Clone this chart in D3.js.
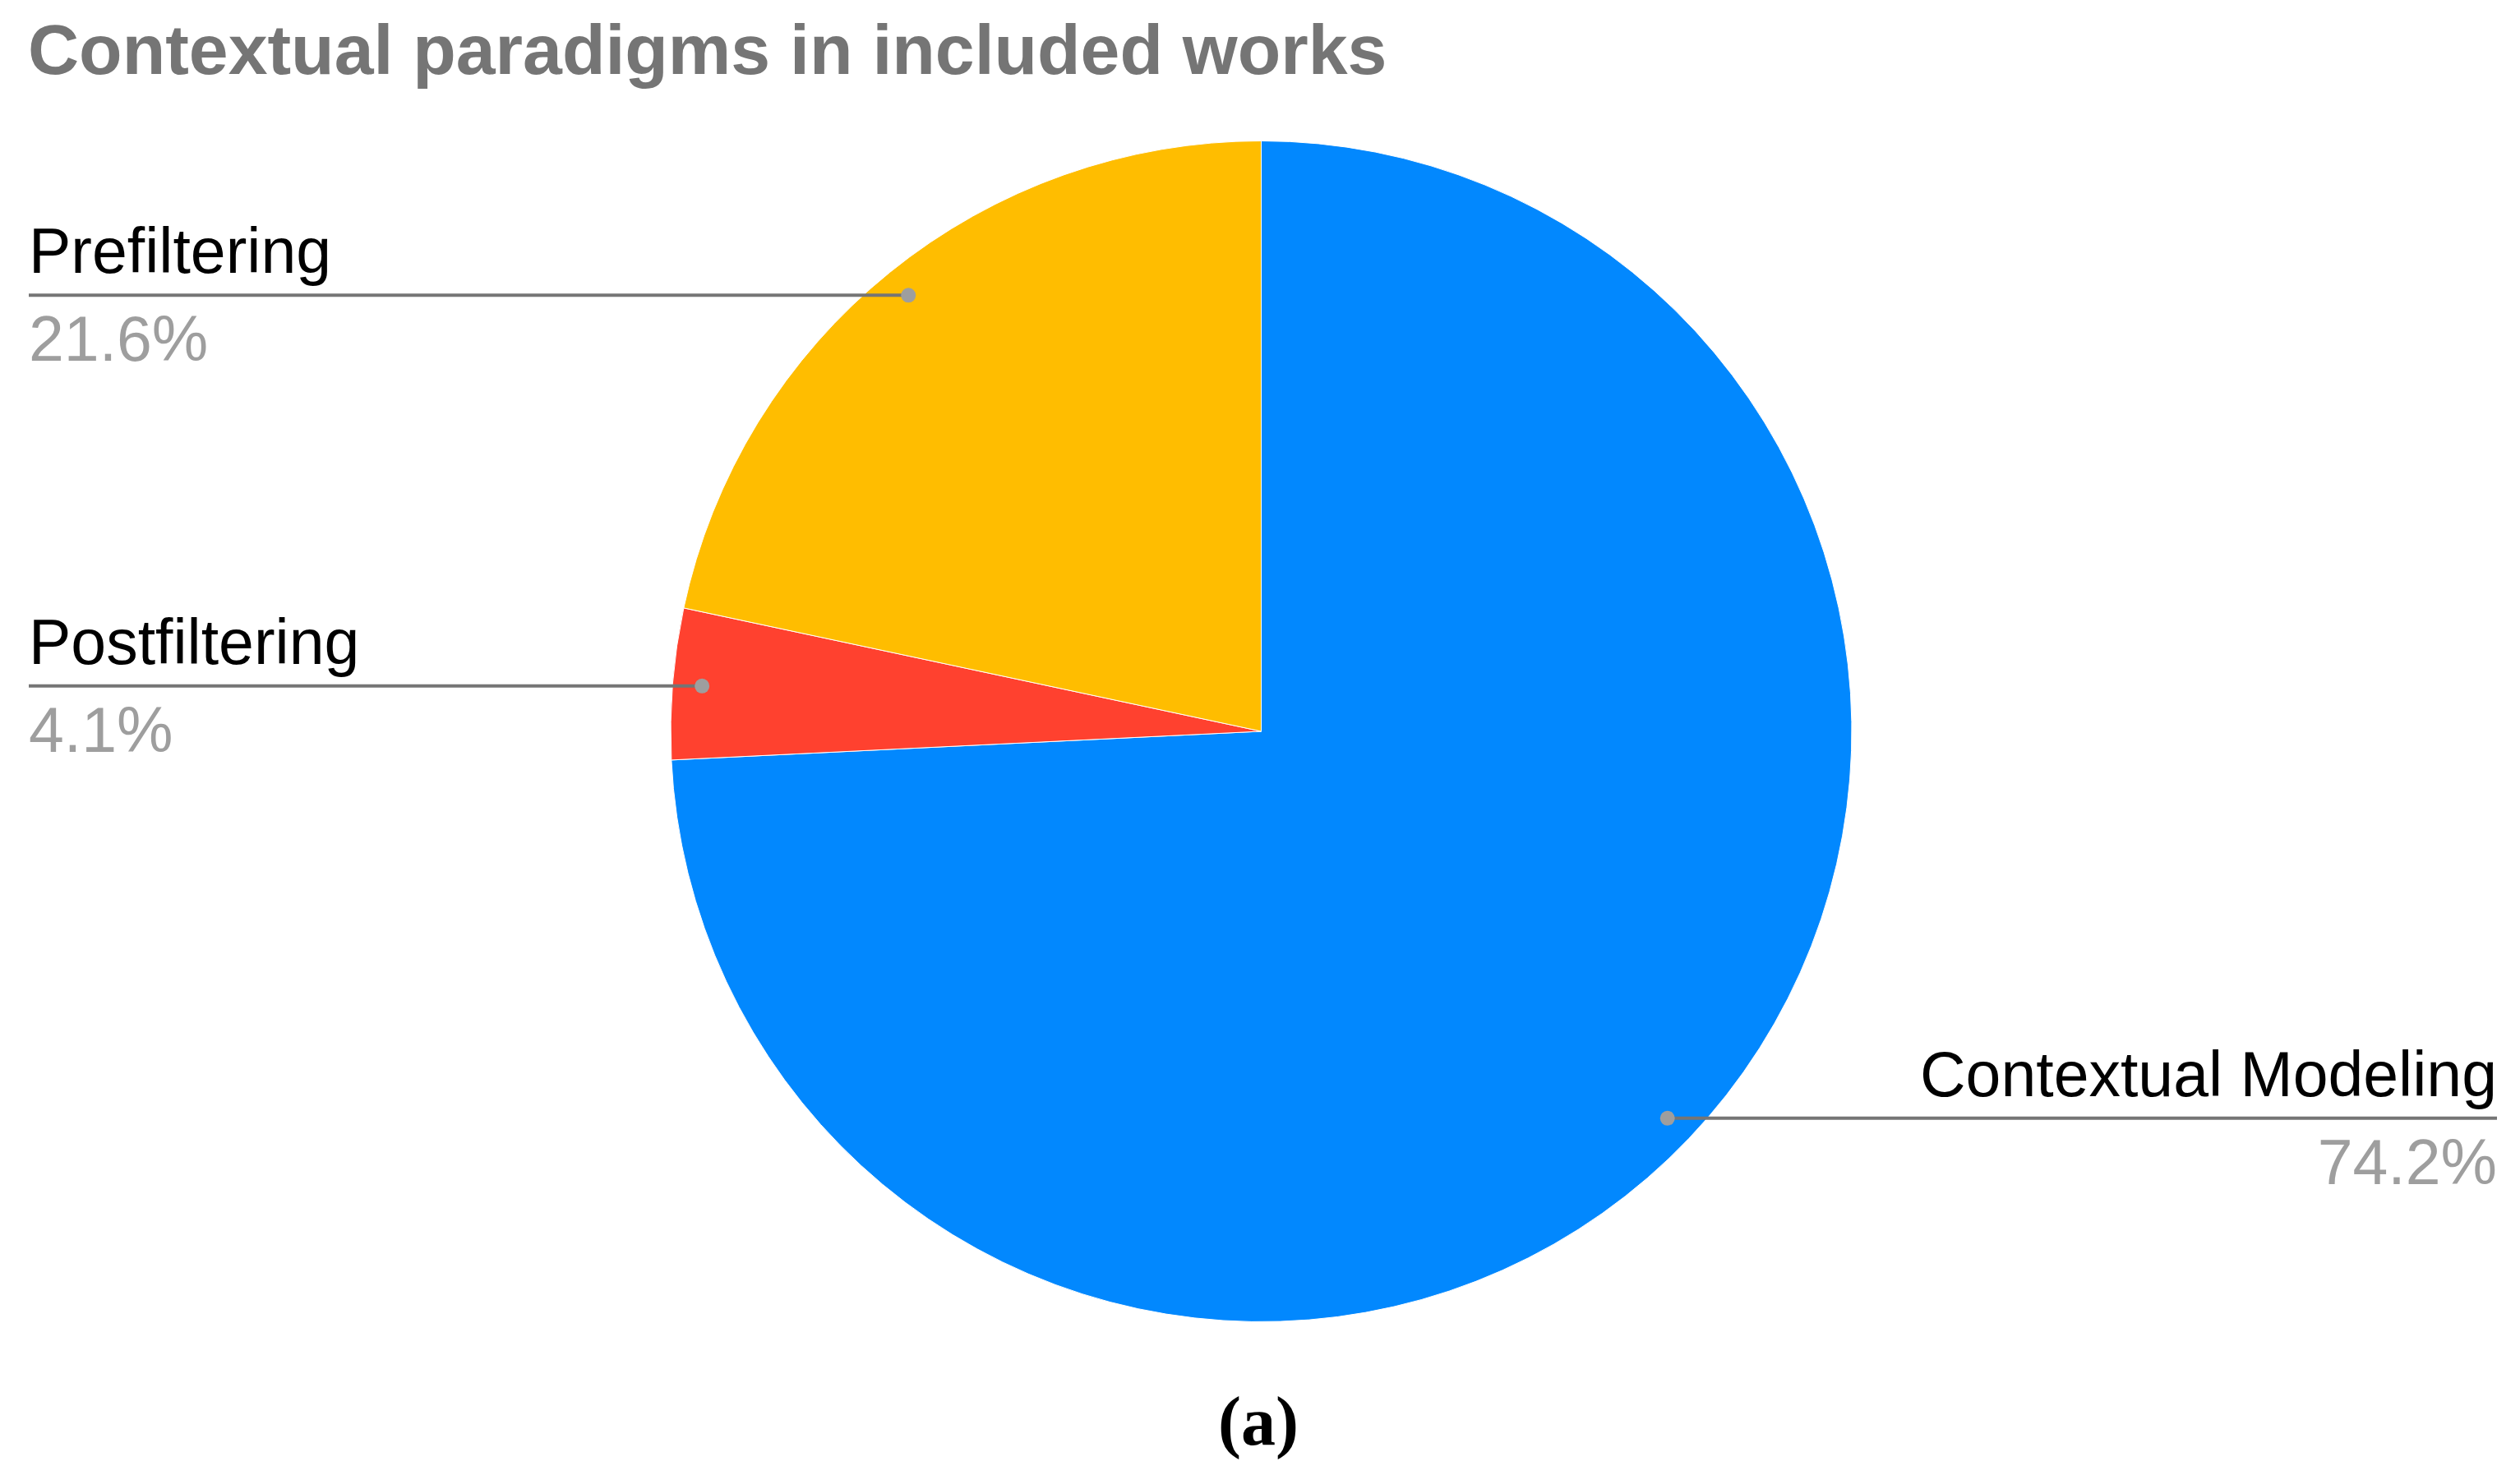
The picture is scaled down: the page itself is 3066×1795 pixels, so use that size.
<!DOCTYPE html>
<html>
<head>
<meta charset="utf-8">
<script src="https://cdn.jsdelivr.net/npm/d3@7"></script>
<style>
  html, body { margin: 0; padding: 0; background: #fff; }
  svg { display: block; }
</style>
</head>
<body>
<svg id="chart" width="3066" height="1795"></svg>
<script>
var categories = ["Contextual Modeling", "Postfiltering", "Prefiltering"];
var counts = [72, 4, 21];
var colors = ["#0288fe", "#ff412f", "#ffbd00"];
var titleText = "Contextual paradigms in included works";
var captionText = "(a)";

var W = 3066, H = 1795;
var cx = 1534.5, cy = 890, r = 718.5;

var svg = d3.select("#chart");

var data = categories.map(function(c, i) {
  return {name: c, value: counts[i], color: colors[i]};
});
var total = d3.sum(counts);

// title
svg.append("text")
  .attr("x", 34)
  .attr("y", 90)
  .style("font-family", "'Liberation Sans', Arial, sans-serif")
  .style("font-weight", "bold")
  .style("font-size", "86px")
  .style("fill", "#757575")
  .text(titleText);

var pie = d3.pie()
  .value(function(d) { return d.value; })
  .sort(null);

var arcs = pie(data);

var arc = d3.arc().innerRadius(0).outerRadius(r);
var dotArc = d3.arc().innerRadius(r * 0.95).outerRadius(r * 0.95);

var g = svg.append("g").attr("transform", "translate(" + cx + "," + cy + ")");

g.selectAll("path")
  .data(arcs)
  .enter()
  .append("path")
  .attr("d", arc)
  .style("fill", function(d) { return d.data.color; })
  .style("stroke", "#ffffff")
  .style("stroke-width", 1);

// leader lines + labels
var leftX = 35, rightX = 3038;

arcs.forEach(function(d) {
  var p = dotArc.centroid(d);
  var px = cx + p[0], py = cy + p[1];
  var right = p[0] > 0;
  var ex = right ? rightX : leftX;

  svg.append("line")
    .attr("x1", px).attr("y1", py)
    .attr("x2", ex).attr("y2", py)
    .style("stroke", "#757575")
    .style("stroke-width", 4);

  svg.append("circle")
    .attr("cx", px).attr("cy", py)
    .attr("r", 9)
    .style("fill", "#9e9e9e");

  svg.append("text")
    .attr("x", ex)
    .attr("y", py - 27)
    .attr("text-anchor", right ? "end" : "start")
    .style("font-family", "'Liberation Sans', Arial, sans-serif")
    .style("font-size", "77px")
    .style("fill", "#000")
    .text(d.data.name);

  svg.append("text")
    .attr("x", ex)
    .attr("y", py + 80)
    .attr("text-anchor", right ? "end" : "start")
    .style("font-family", "'Liberation Sans', Arial, sans-serif")
    .style("font-size", "77px")
    .style("fill", "#9e9e9e")
    .text(d3.format(".1%")(d.data.value / total));
});

// caption
svg.append("text")
  .attr("x", 1531)
  .attr("y", 1758)
  .attr("text-anchor", "middle")
  .style("font-family", "'Liberation Serif', 'Times New Roman', serif")
  .style("font-weight", "bold")
  .style("font-size", "84px")
  .style("fill", "#000")
  .text(captionText);
</script>
</body>
</html>
